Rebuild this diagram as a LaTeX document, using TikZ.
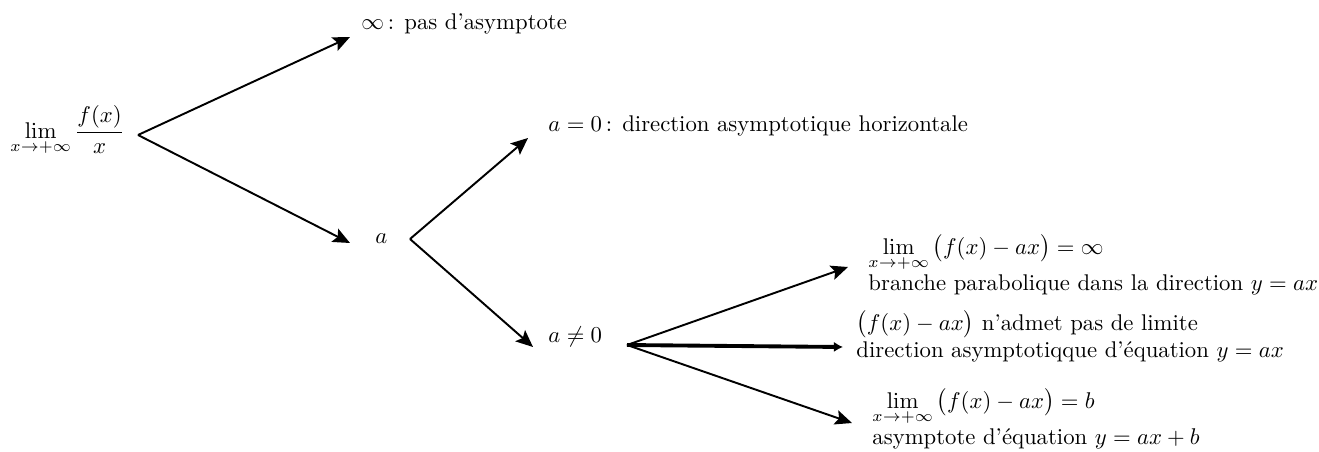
\documentclass[tikz,border=0pt]{standalone}
\usepackage{amsmath}
\usetikzlibrary{arrows.meta}
\begin{document}
\begin{tikzpicture}[x=0.44pt,y=-0.44pt,
  arr/.style={line width=0.85pt,-{Stealth[length=7.5pt,width=6.5pt,inset=1.5pt]}},
  thickarr/.style={line width=1.7pt,-{Latex[length=4pt,width=4.5pt]}},
  txt/.style={anchor=base west,inner sep=0pt}]
\useasboundingbox (0,0) rectangle (1319,451);
% level 0
\node[txt] (root) at (10,138) {$\displaystyle\lim_{x\to+\infty}\frac{f(x)}{x}$};
\coordinate (v0) at ([shift={(128,-3)}]root.base west);
% level 1
\node[txt] (inf) at (361,29) {$\infty$\,: pas d'asymptote};
\coordinate (tinf) at ([shift={(-11,8)}]inf.base west);
\node[txt] (na) at (375,243) {$a$};
\coordinate (ta) at ([shift={(-25,0)}]na.base west);
\coordinate (v1) at ([shift={(35,-4)}]na.base west);
% level 2
\node[txt] (nz) at (548,131) {$a=0$\,: direction asymptotique horizontale};
\coordinate (tz) at ([shift={(-20,7)}]nz.base west);
\node[txt] (nn) at (548,342) {$a\neq0$};
\coordinate (tn) at ([shift={(-15,5)}]nn.base west);
\coordinate (v2) at ([shift={(79,3)}]nn.base west);
% level 3
\node[txt] (r1) at (868,254) {\begin{tabular}[t]{@{}l@{}}
  $\displaystyle\lim_{x\to+\infty}\big(f(x)-ax\big)=\infty$\\
  branche parabolique dans la direction $y=ax$\end{tabular}};
\coordinate (t1) at ([shift={(-20,13)}]r1.base west);
\node[txt] (r2) at (856,330) {\begin{tabular}[t]{@{}l@{}}
  $\big(f(x)-ax\big)$ n'admet pas de limite\\
  direction asymptotiqque d'équation $y=ax$\end{tabular}};
\coordinate (t2) at ([shift={(-13,17)}]r2.base west);
\node[txt] (r3) at (872,408) {\begin{tabular}[t]{@{}l@{}}
  $\displaystyle\lim_{x\to+\infty}\big(f(x)-ax\big)=b$\\
  asymptote d'équation $y=ax+b$\end{tabular}};
\coordinate (t3) at ([shift={(-20,15)}]r3.base west);
% connectors
\draw[arr] (v0) -- (tinf);
\draw[arr] (v0) -- (ta);
\draw[arr] (v1) -- (tz);
\draw[arr] (v1) -- (tn);
\draw[arr] (v2) -- (t1);
\draw[thickarr] (v2) -- (t2);
\draw[arr] (v2) -- (t3);
\end{tikzpicture}
\end{document}
